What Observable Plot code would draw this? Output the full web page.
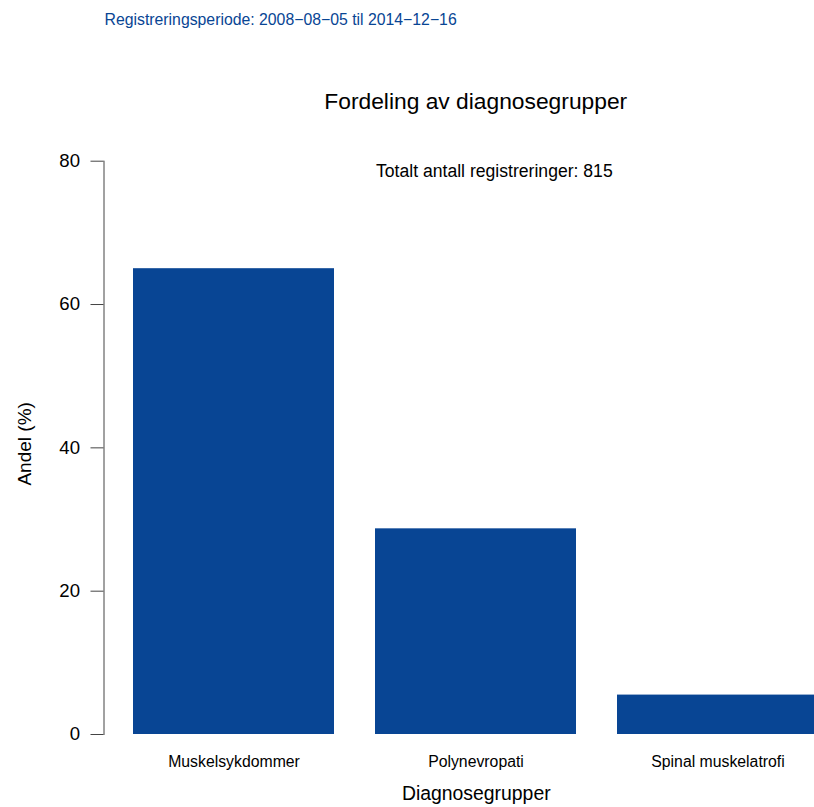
<!DOCTYPE html>
<html>
<head>
<meta charset="utf-8">
<script src="https://cdn.jsdelivr.net/npm/d3@7"></script>
<script src="https://cdn.jsdelivr.net/npm/@observablehq/plot@0.6"></script>
<style>
  html, body { margin: 0; padding: 0; background: white; overflow: hidden; }
  #chart svg { display: block; }
</style>
</head>
<body>
<div id="chart"></div>
<script>
const categories = ["Muskelsykdommer", "Polynevropati", "Spinal muskelatrofi"];
const shares = [65.0, 28.7, 5.5];
const yTicks = [0, 20, 40, 60, 80];
const titleText = "Fordeling av diagnosegrupper";
const subtitleText = "Registreringsperiode: 2008\u221208\u221205 til 2014\u221212\u221216";
const totalText = "Totalt antall registreringer: 815";
const xLabel = "Diagnosegrupper";
const yLabel = "Andel (%)";

const data = categories.map((c, i) => ({cat: c, val: shares[i]}));
const font = "'Liberation Sans', Arial, Helvetica, sans-serif";

const chart = Plot.plot({
  width: 814,
  height: 807,
  marginLeft: 103.5,
  marginRight: -33,
  marginTop: 160.7,
  marginBottom: 73,
  style: {fontFamily: font, background: "white", color: "black"},
  x: {domain: categories, paddingInner: 0.17, paddingOuter: 0.116, axis: null},
  y: {domain: [0, 80], axis: null},
  marks: [
    Plot.barY(data, {x: "cat", y: "val", fill: "#084594"}),
    Plot.frame({anchor: "left", stroke: "#444"}),
    Plot.axisY(yTicks, {anchor: "left", tickSize: 13, tickPadding: 11, fontSize: 18.6, stroke: "#444", fill: "black", label: null}),
    Plot.axisX({anchor: "bottom", tickSize: 0, tickPadding: 21, fontSize: 15.8, fill: "black", label: null}),
    Plot.text([titleText], {text: d => d, frameAnchor: "top", dy: -52.4, lineAnchor: "bottom", textAnchor: "middle", fontSize: 22.8, fill: "black"}),
    Plot.text([totalText], {text: d => d, frameAnchor: "top", dx: 18.6, dy: 16, lineAnchor: "bottom", textAnchor: "middle", fontSize: 17.6, fill: "black"}),
    Plot.text([xLabel], {text: d => d, frameAnchor: "bottom", dx: 0.5, dy: 65.3, lineAnchor: "bottom", textAnchor: "middle", fontSize: 19.4, fill: "black"}),
    Plot.text([yLabel], {text: d => d, frameAnchor: "left", rotate: -90, dx: -73, dy: -4, lineAnchor: "bottom", textAnchor: "middle", fontSize: 19, fill: "black"}),
    Plot.text([subtitleText], {text: d => d, frameAnchor: "top-left", dx: 0.5, dy: -136.7, lineAnchor: "bottom", textAnchor: "start", fontSize: 15.8, fill: "#084594"})
  ]
});
document.getElementById("chart").appendChild(chart);
</script>
</body>
</html>
